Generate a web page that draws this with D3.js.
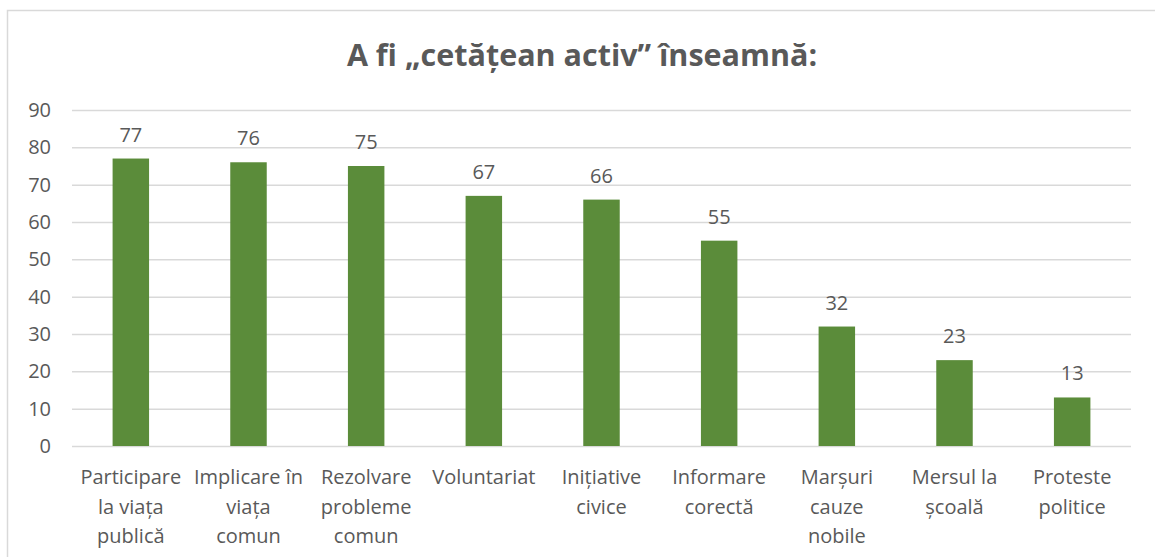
<!DOCTYPE html>
<html>
<head>
<meta charset="utf-8">
<script src="https://cdn.jsdelivr.net/npm/d3@7"></script>
<style>
  body { margin: 0; background: #fff; }
  text { font-family: "Open Sans", sans-serif; fill: #595959; }
</style>
</head>
<body>
<div id="chart"></div>
<script>
var categories = [
  "Participare la viața publică",
  "Implicare în viața comun",
  "Rezolvare probleme comun",
  "Voluntariat",
  "Inițiative civice",
  "Informare corectă",
  "Marșuri cauze nobile",
  "Mersul la școală",
  "Proteste politice"
];
var categoryLines = [
  ["Participare", "la viața", "publică"],
  ["Implicare în", "viața", "comun"],
  ["Rezolvare", "probleme", "comun"],
  ["Voluntariat"],
  ["Inițiative", "civice"],
  ["Informare", "corectă"],
  ["Marșuri", "cauze", "nobile"],
  ["Mersul la", "școală"],
  ["Proteste", "politice"]
];
var values = [77, 76, 75, 67, 66, 55, 32, 23, 13];
var yTicks = [0, 10, 20, 30, 40, 50, 60, 70, 80, 90];

var w = 1155, h = 557;
var margin = { top: 110, right: 24, bottom: 111, left: 72 };

var svg = d3.select("#chart")
  .append("svg")
  .attr("width", w)
  .attr("height", h);

// chart frame
svg.append("rect")
  .attr("x", 7.5)
  .attr("y", 10.5)
  .attr("width", w + 10)
  .attr("height", h + 10)
  .attr("fill", "none")
  .attr("stroke", "#d9d9d9")
  .attr("stroke-width", 1.5);

svg.append("text")
  .attr("x", 582)
  .attr("y", 66)
  .attr("text-anchor", "middle")
  .attr("font-size", "30.5px")
  .attr("font-weight", "bold")
  .text("A fi „cetățean activ” înseamnă:");

var x = d3.scaleBand()
  .domain(categories)
  .range([margin.left, w - margin.right])
  .paddingInner(0.69)
  .paddingOuter(0.345);

var y = d3.scaleLinear()
  .domain([0, 90])
  .range([h - margin.bottom, margin.top]);

var yAxis = svg.append("g")
  .attr("transform", "translate(" + margin.left + ",0)")
  .call(d3.axisLeft(y)
    .tickValues(yTicks)
    .tickSize(-(w - margin.left - margin.right))
    .tickPadding(21));

yAxis.select(".domain").remove();
yAxis.selectAll(".tick line")
  .attr("stroke", "#d9d9d9")
  .attr("stroke-width", 1.5);
yAxis.selectAll(".tick text")
  .attr("font-size", "20px")
  .attr("font-family", "Open Sans, sans-serif")
  .attr("fill", "#595959");

svg.append("g")
  .selectAll("rect")
  .data(values)
  .enter()
  .append("rect")
  .attr("x", function(d, i) { return x(categories[i]); })
  .attr("y", function(d) { return y(d); })
  .attr("width", x.bandwidth())
  .attr("height", function(d) { return y(0) - y(d); })
  .attr("fill", "#5b8c3a");

svg.append("g")
  .selectAll("text")
  .data(values)
  .enter()
  .append("text")
  .attr("x", function(d, i) { return x(categories[i]) + x.bandwidth() / 2; })
  .attr("y", function(d) { return y(d) - 17; })
  .attr("text-anchor", "middle")
  .attr("font-size", "20px")
  .text(function(d) { return d; });

var labels = svg.append("g")
  .selectAll("text")
  .data(categoryLines)
  .enter()
  .append("text")
  .attr("x", function(d, i) { return x(categories[i]) + x.bandwidth() / 2; })
  .attr("y", 484)
  .attr("text-anchor", "middle")
  .attr("font-size", "20px");

labels.selectAll("tspan")
  .data(function(d) { return d; })
  .enter()
  .append("tspan")
  .attr("x", function() { return d3.select(this.parentNode).attr("x"); })
  .attr("dy", function(d, i) { return i === 0 ? 0 : 29.5; })
  .text(function(d) { return d; });
</script>
</body>
</html>
